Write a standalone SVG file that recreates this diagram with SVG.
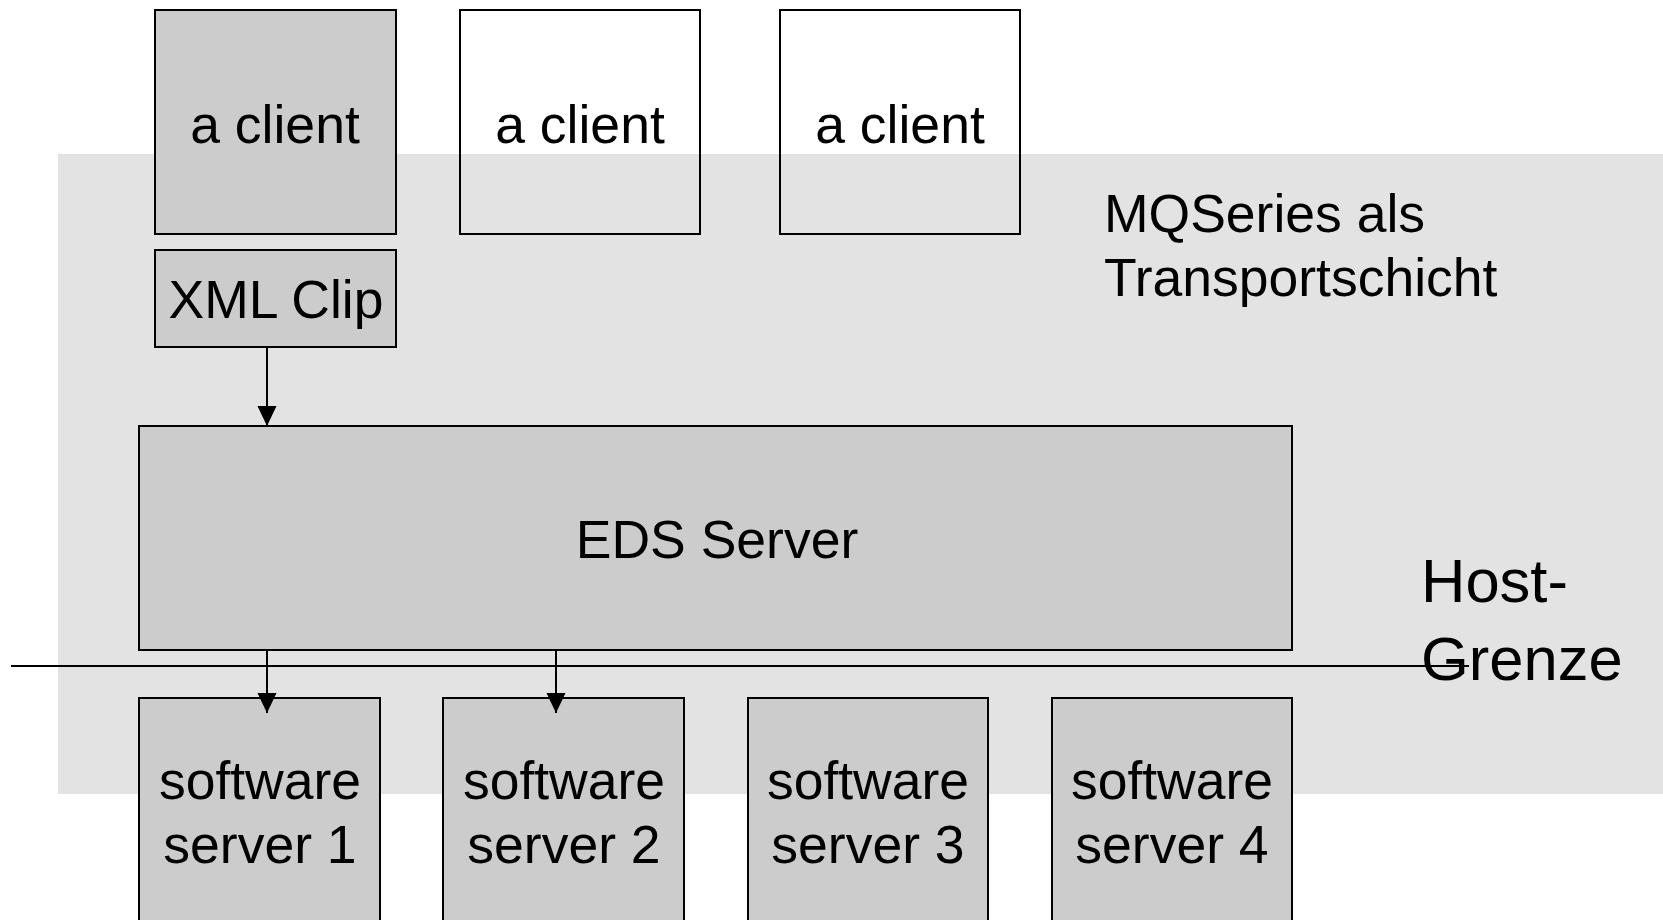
<svg xmlns="http://www.w3.org/2000/svg" width="1663" height="920" viewBox="0 0 1663 920">
<style>
text{font-family:"Liberation Sans",Arial,sans-serif;fill:#000}
.n{font-size:53.5px;text-anchor:middle}
.box{fill:#cccccc;stroke:#000;stroke-width:2}
.wbox{fill:none;stroke:#000;stroke-width:2}
.c{stroke:#000;stroke-width:2;fill:none}
</style>
<defs>
<marker id="ah" markerUnits="userSpaceOnUse" markerWidth="20" markerHeight="21" refX="21" refY="10" orient="auto" viewBox="0 0 21 20">
<path d="M0,0 L21,10 L0,20 z" fill="#000"/>
</marker>
</defs>
<rect id="layer" x="58" y="154" width="1605" height="640" fill="#e3e3e3"/>
<g id="client1"><rect class="box" x="155" y="10" width="241" height="224"/><text class="n" x="275" y="143">a client</text></g>
<g id="client2"><rect class="wbox" x="460" y="10" width="240" height="224"/><text class="n" x="580" y="143">a client</text></g>
<g id="client3"><rect class="wbox" x="780" y="10" width="240" height="224"/><text class="n" x="900" y="143">a client</text></g>
<g id="mqlabel"><text x="1104" y="232" font-size="53.5">MQSeries als</text><text x="1104" y="296" font-size="53.5">Transportschicht</text></g>
<g id="xmlclip"><rect class="box" x="155" y="250" width="241" height="97"/><text class="n" x="276" y="318">XML Clip</text></g>
<g id="eds"><rect class="box" x="139" y="426" width="1153" height="224"/><text class="n" x="717" y="558">EDS Server</text></g>
<g id="hostlabel"><text x="1421" y="602" font-size="61.5">Host-</text><text x="1421" y="680" font-size="61.5">Grenze</text></g>
<g id="hostline"><line x1="11" y1="666" x2="1469" y2="666" stroke="#000" stroke-width="2"/></g>
<g id="sw1"><rect class="box" x="139" y="698" width="241" height="240"/><text class="n" x="260" y="799">software</text><text class="n" x="260" y="863">server 1</text></g>
<g id="sw2"><rect class="box" x="443" y="698" width="241" height="240"/><text class="n" x="564" y="799">software</text><text class="n" x="564" y="863">server 2</text></g>
<g id="sw3"><rect class="box" x="748" y="698" width="240" height="240"/><text class="n" x="868" y="799">software</text><text class="n" x="868" y="863">server 3</text></g>
<g id="sw4"><rect class="box" x="1052" y="698" width="240" height="240"/><text class="n" x="1172" y="799">software</text><text class="n" x="1172" y="863">server 4</text></g>
<g id="connectors">
<line class="c" x1="267" y1="347" x2="267" y2="426" marker-end="url(#ah)"/>
<line class="c" x1="267" y1="650" x2="267" y2="713" marker-end="url(#ah)"/>
<line class="c" x1="556" y1="650" x2="556" y2="713" marker-end="url(#ah)"/>
</g>
</svg>
